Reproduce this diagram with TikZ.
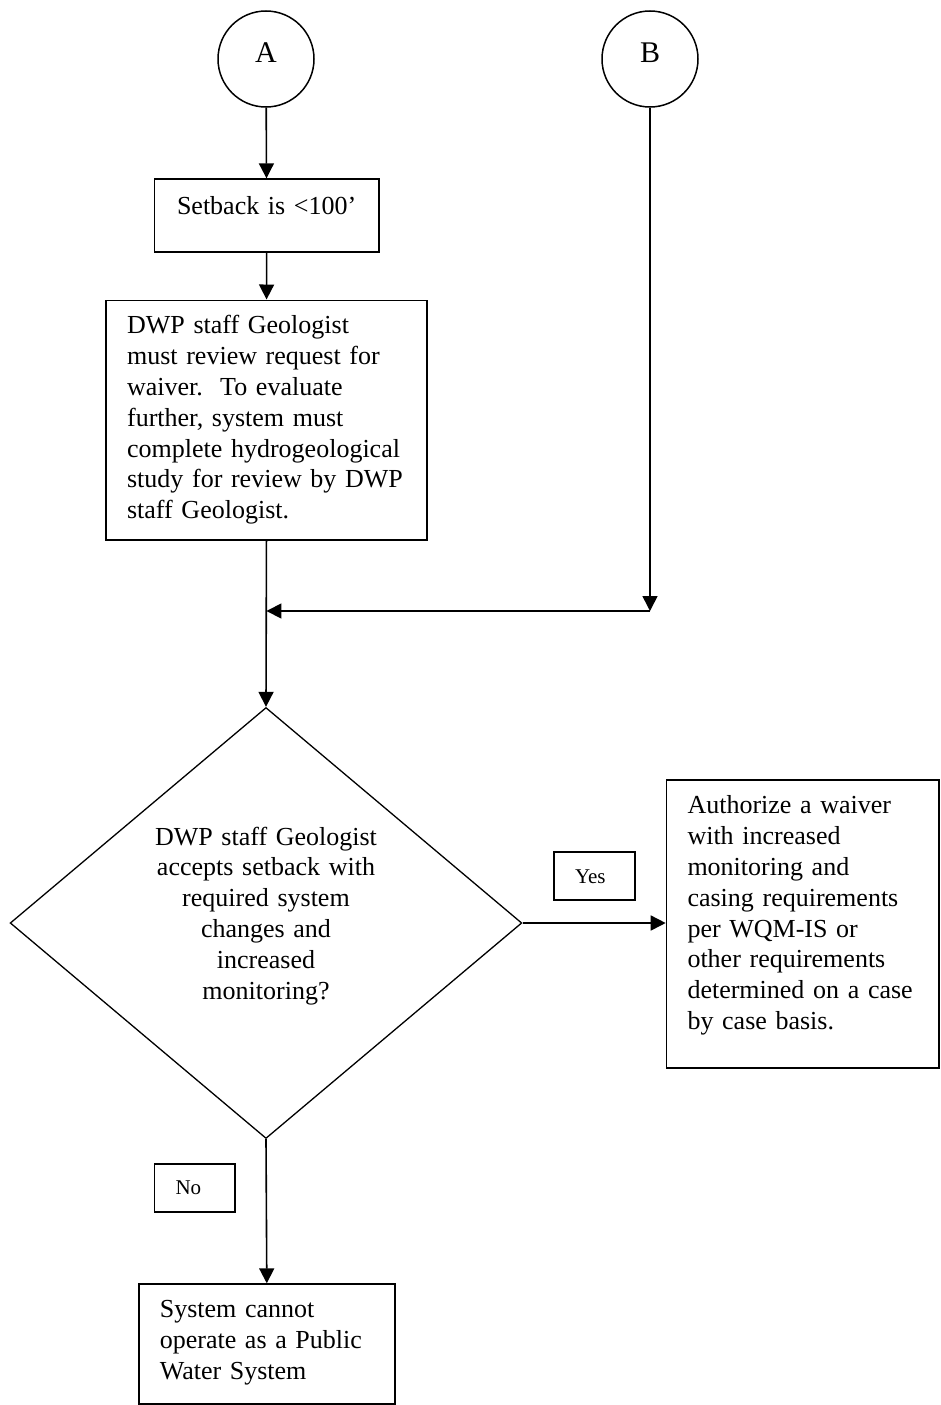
\documentclass[tikz,border=0pt]{standalone}
\usepackage{fontspec}
\setmainfont{Liberation Serif}
\usepackage{tikz}
\usetikzlibrary{shapes.geometric}
\usetikzlibrary{arrows.meta}

\begin{document}
\begin{tikzpicture}[x=1pt,y=-1pt,
		conn/.style={draw, circle, line width=1.5pt, minimum size=96pt, inner sep=0pt,
			font=\fontsize{30}{34}\selectfont, text height=20pt, text depth=12pt},
		box/.style={draw, line width=1.6pt, anchor=north west, align=left,
			inner xsep=21pt, inner ysep=0pt, font=\fontsize{26}{30.8}\selectfont},
		tag/.style={box, font=\fontsize{21}{25}\selectfont},
		decision/.style={draw, diamond, aspect=1.19, line width=1.3pt, minimum width=511.7pt,
			minimum height=431pt, inner sep=0pt, align=center, text width=240pt,
			font=\fontsize{26}{30.8}\selectfont, text height=18pt, text depth=174pt},
		arr/.style={line width=1.6pt, -{Triangle[length=15pt,width=15pt]}}]
		\useasboundingbox (0,0) rectangle (940,1405);
		\node[conn] (A) at (266,59) {A};
		\node[conn] (B) at (650,59) {B};
		\node[box, align=center, text width=182.3pt, text height=35.7pt, text depth=37pt]
		(setback) at (153.7,178.3) {Setback is <100'};
		\node[box, text width=278.7pt, text height=33.5pt, text depth=206pt]
		(review) at (105.3,299.5) {DWP staff Geologist\\ must review request for\\
			waiver.\ \ To evaluate\\ further, system must\\ complete hydrogeological\\
			study for review by DWP\\ staff Geologist.};
		\node[decision] (dec) at (266,923) {DWP staff Geologist\\ accepts setback with\\
			required system\\ changes and\\ increased\\ monitoring?};
		\node[box, text width=230.6pt, text height=33.7pt, text depth=254.3pt]
		(auth) at (665.7,779.3) {Authorize a waiver\\ with increased\\ monitoring and\\
			casing requirements\\ per WQM-IS or\\ other requirements\\
			determined on a case\\ by case basis.};
		\node[box, text width=214pt, text height=33.4pt, text depth=86.6pt]
		(noop) at (138,1283.3) {System cannot\\ operate as a Public\\ Water System};
		\node[tag, text width=39pt, text height=31.3pt, text depth=17pt]
		(yes) at (553.3,851) {Yes};
		\node[tag, text width=38.6pt, text height=30.7pt, text depth=17.3pt]
		(no) at (153.7,1163.3) {No};
		\coordinate (bcorner) at (650,611);
		\coordinate (join) at (review.south |- bcorner);
		\draw[arr] (A) -- (setback);
		\draw[arr] (setback) -- (review);
		\draw[arr] (review.south) -- (dec.north);
		\draw[arr] (B) -- (bcorner);
		\draw[arr] (bcorner) -- (join);
		\draw[arr] (dec.east) -- (dec.east -| auth.west);
		\draw[arr] (dec.south) -- (noop.north);
	\end{tikzpicture}
\end{document}
